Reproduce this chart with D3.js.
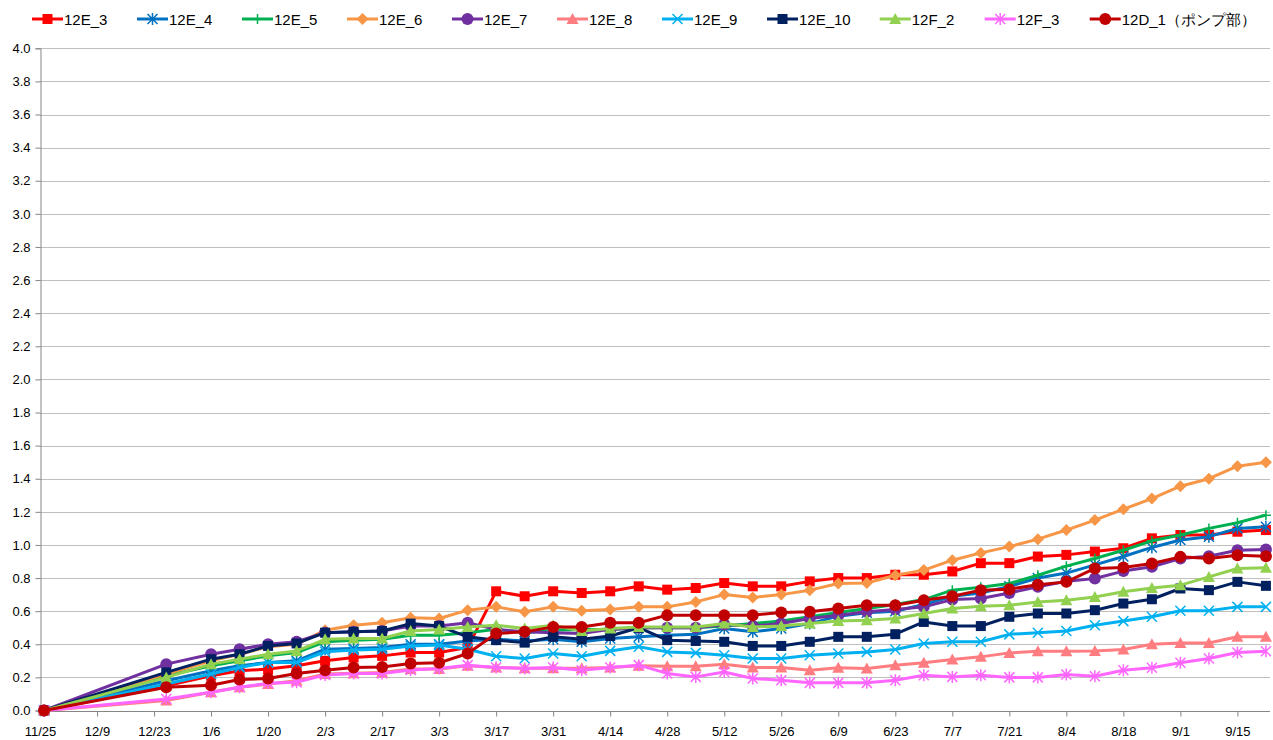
<!DOCTYPE html>
<html>
<head>
<meta charset="utf-8">
<title>12E series</title>
<style>
  body { margin: 0; background: #fff; font-family: 'Liberation Sans', Arial, sans-serif; }
  .grid line { stroke: #bfbfbf; stroke-width: 1; }
  .axis path, .axis line { stroke: #868686; }
  .axis text { font-size: 13px; fill: #000; font-family: 'Liberation Sans', Arial, sans-serif; }
  .legend text { font-size: 15px; fill: #000; }
  .series path.line { fill: none; stroke-width: 3; stroke-linejoin: round; }
</style>
</head>
<body>
<script src="https://d3js.org/d3.v7.min.js"></script>
<script>
// measurement dates (first two irregular, then weekly)
var dates = ["2012-11-26","2012-12-26","2013-01-06","2013-01-13","2013-01-20","2013-01-27","2013-02-03","2013-02-10",
  "2013-02-17","2013-02-24","2013-03-03","2013-03-10","2013-03-17","2013-03-24","2013-03-31","2013-04-07",
  "2013-04-14","2013-04-21","2013-04-28","2013-05-05","2013-05-12","2013-05-19","2013-05-26","2013-06-02",
  "2013-06-09","2013-06-16","2013-06-23","2013-06-30","2013-07-07","2013-07-14","2013-07-21","2013-07-28",
  "2013-08-04","2013-08-11","2013-08-18","2013-08-25","2013-09-01","2013-09-08","2013-09-15","2013-09-22"];

// axis tick dates (every 2 weeks)
var tickDates = ["2012-11-25","2012-12-09","2012-12-23","2013-01-06","2013-01-20","2013-02-03","2013-02-17",
  "2013-03-03","2013-03-17","2013-03-31","2013-04-14","2013-04-28","2013-05-12","2013-05-26","2013-06-09",
  "2013-06-23","2013-07-07","2013-07-21","2013-08-04","2013-08-18","2013-09-01","2013-09-15"];

var yTicks = [0,0.2,0.4,0.6,0.8,1.0,1.2,1.4,1.6,1.8,2.0,2.2,2.4,2.6,2.8,3.0,3.2,3.4,3.6,3.8,4.0];

var names = ["12E_3","12E_4","12E_5","12E_6","12E_7","12E_8","12E_9","12E_10","12F_2","12F_3","12D_1（ポンプ部）"];

var s12E_3 = [0,0.15,0.21,0.24,0.25,0.27,0.30,0.32,0.33,0.35,0.35,0.38,0.72,0.69,0.72,0.71,0.72,0.75,0.73,0.74,
  0.77,0.75,0.75,0.78,0.80,0.80,0.82,0.82,0.84,0.89,0.89,0.93,0.94,0.96,0.98,1.04,1.06,1.06,1.08,1.09];
var s12E_4 = [0,0.18,0.24,0.27,0.29,0.30,0.37,0.375,0.38,0.40,0.40,0.42,0.43,0.42,0.43,0.415,0.435,0.445,0.455,0.46,
  0.495,0.475,0.495,0.525,0.57,0.59,0.60,0.64,0.69,0.71,0.75,0.80,0.83,0.88,0.93,0.985,1.03,1.05,1.10,1.11];
var s12E_5 = [0,0.21,0.27,0.30,0.33,0.35,0.415,0.425,0.43,0.455,0.455,0.47,0.49,0.47,0.485,0.49,0.49,0.50,0.50,0.50,
  0.51,0.525,0.54,0.566,0.592,0.616,0.64,0.67,0.727,0.745,0.767,0.817,0.872,0.918,0.968,1.025,1.06,1.10,1.134,1.18];
var s12E_6 = [0,0.22,0.30,0.34,0.385,0.40,0.485,0.515,0.53,0.56,0.556,0.606,0.626,0.596,0.626,0.602,0.61,0.626,0.626,0.656,
  0.70,0.683,0.70,0.727,0.767,0.77,0.817,0.848,0.908,0.952,0.99,1.035,1.09,1.15,1.216,1.28,1.355,1.40,1.476,1.50];
var s12E_7 = [0,0.28,0.34,0.37,0.40,0.415,0.47,0.475,0.48,0.51,0.51,0.53,0.49,0.475,0.47,0.465,0.49,0.50,0.50,0.50,
  0.52,0.51,0.525,0.556,0.576,0.596,0.61,0.626,0.67,0.677,0.71,0.747,0.78,0.797,0.842,0.868,0.918,0.932,0.968,0.973];
var s12E_8 = [0,0.06,0.11,0.14,0.16,0.18,0.22,0.225,0.23,0.25,0.25,0.27,0.26,0.255,0.255,0.255,0.26,0.27,0.268,0.268,
  0.28,0.26,0.26,0.243,0.258,0.254,0.274,0.288,0.308,0.324,0.348,0.358,0.358,0.36,0.368,0.40,0.408,0.408,0.445,0.445];
var s12E_9 = [0,0.16,0.22,0.26,0.29,0.29,0.355,0.365,0.37,0.39,0.395,0.37,0.328,0.314,0.344,0.328,0.36,0.385,0.354,0.348,
  0.334,0.314,0.314,0.334,0.344,0.354,0.368,0.405,0.415,0.415,0.46,0.47,0.48,0.515,0.54,0.566,0.602,0.602,0.626,0.626];
var s12E_10 = [0,0.23,0.31,0.34,0.39,0.405,0.47,0.475,0.48,0.525,0.51,0.445,0.425,0.41,0.445,0.43,0.45,0.50,0.425,0.42,
  0.415,0.39,0.39,0.415,0.445,0.445,0.461,0.535,0.51,0.51,0.566,0.586,0.586,0.606,0.646,0.672,0.737,0.727,0.777,0.753];
var s12F_2 = [0,0.20,0.28,0.31,0.34,0.36,0.43,0.435,0.435,0.48,0.49,0.505,0.515,0.495,0.515,0.48,0.495,0.505,0.505,0.505,
  0.525,0.505,0.51,0.525,0.54,0.545,0.556,0.586,0.616,0.63,0.636,0.656,0.666,0.686,0.717,0.74,0.757,0.807,0.858,0.862];
var s12F_3 = [0,0.07,0.11,0.14,0.165,0.17,0.215,0.224,0.224,0.245,0.254,0.274,0.26,0.254,0.26,0.243,0.26,0.274,0.224,0.203,
  0.233,0.193,0.183,0.167,0.167,0.167,0.183,0.213,0.203,0.213,0.20,0.20,0.217,0.207,0.243,0.258,0.288,0.314,0.35,0.358];
var s12D_1 = [0,0.14,0.153,0.187,0.193,0.224,0.243,0.26,0.263,0.284,0.288,0.344,0.465,0.475,0.505,0.505,0.53,0.53,0.576,0.576,
  0.576,0.576,0.592,0.596,0.616,0.636,0.636,0.666,0.69,0.727,0.733,0.76,0.777,0.858,0.864,0.888,0.928,0.918,0.938,0.932];

var colors = ["#ff0000","#0070c0","#00b050","#f79646","#7030a0","#ff7c80","#00b0f0","#002060","#92d050","#ff66ff","#c00000"];
var markers = ["square","asterisk","plus","diamond","circle","triangle","x","square","triangle","asterisk","circle"];

var values = [s12E_3,s12E_4,s12E_5,s12E_6,s12E_7,s12E_8,s12E_9,s12E_10,s12F_2,s12F_3,s12D_1];

var width = 1273, height = 740;
var parse = d3.utcParse("%Y-%m-%d");

var svg = d3.select("body").append("svg")
  .attr("width", width)
  .attr("height", height);

var x = d3.scaleUtc()
  .domain([parse("2012-11-25"), parse("2013-09-23")])
  .range([40, 1270]);

var y = d3.scaleLinear()
  .domain([0, 4])
  .range([710.5, 48.3]);

// gridlines
svg.append("g").attr("class", "grid")
  .selectAll("line")
  .data(yTicks.slice(1))
  .enter().append("line")
  .attr("x1", 40).attr("x2", 1270)
  .attr("y1", function(d) { return Math.round(y(d)) + 0.5; })
  .attr("y2", function(d) { return Math.round(y(d)) + 0.5; });

// y axis
svg.append("g").attr("class", "axis")
  .attr("transform", "translate(40.5,0)")
  .call(d3.axisLeft(y).tickValues(yTicks).tickFormat(d3.format(".1f")).tickSize(5).tickPadding(5));

// x axis
var xAxis = svg.append("g").attr("class", "axis")
  .attr("transform", "translate(0," + (Math.round(y(0)) + 0.5) + ")")
  .call(d3.axisBottom(x).tickValues(tickDates.map(parse)).tickFormat(d3.utcFormat("%-m/%-d")).tickSize(5).tickPadding(10));
xAxis.select(".domain").attr("d", "M40,0H1270");

// marker drawing
function drawMarker(g, type, color, size) {
  var r = size / 2;
  if (type == "square") {
    g.append("rect").attr("x", -r).attr("y", -r).attr("width", size).attr("height", size).attr("fill", color);
  } else if (type == "circle") {
    g.append("circle").attr("r", r + 1).attr("fill", color);
  } else if (type == "diamond") {
    g.append("path").attr("d", "M0," + (-r - 1) + "L" + (r + 1) + ",0L0," + (r + 1) + "L" + (-r - 1) + ",0Z").attr("fill", color);
  } else if (type == "triangle") {
    g.append("path").attr("d", "M0," + (-r - 1) + "L" + (r + 1) + "," + r + "L" + (-r - 1) + "," + r + "Z").attr("fill", color);
  } else if (type == "plus") {
    g.append("path").attr("d", "M" + (-r) + ",0H" + r + "M0," + (-r) + "V" + r).attr("stroke", color).attr("stroke-width", 1.5);
  } else if (type == "x") {
    g.append("path").attr("d", "M" + (-r) + "," + (-r) + "L" + r + "," + r + "M" + (-r) + "," + r + "L" + r + "," + (-r))
      .attr("stroke", color).attr("stroke-width", 1.5);
  } else if (type == "asterisk") {
    g.append("path").attr("d", "M" + (-r) + "," + (-r) + "L" + r + "," + r + "M" + (-r) + "," + r + "L" + r + "," + (-r) + "M0," + (-r - 1) + "V" + (r + 1))
      .attr("stroke", color).attr("stroke-width", 1.5);
  }
}

var line = d3.line()
  .x(function(d) { return x(d.date); })
  .y(function(d) { return y(d.value); });

values.forEach(function(vals, k) {
  var pts = vals.map(function(v, i) { return { date: parse(dates[i]), value: v }; });
  var g = svg.append("g").attr("class", "series");
  g.append("path").attr("class", "line")
    .attr("d", line(pts))
    .attr("stroke", colors[k]);
  g.selectAll("g.mk")
    .data(pts)
    .enter().append("g")
    .attr("class", "mk")
    .attr("transform", function(d) { return "translate(" + x(d.date) + "," + y(d.value) + ")"; })
    .each(function() { drawMarker(d3.select(this), markers[k], colors[k], 10); });
});

// legend: entries ~105px apart, wider ones pushed along
var legend = svg.append("g").attr("class", "legend");
var lx = 32;
names.forEach(function(name, k) {
  var item = legend.append("g").attr("transform", "translate(" + lx + ",19)");
  item.append("line").attr("x1", 0).attr("x2", 31).attr("y1", 0).attr("y2", 0)
    .attr("stroke", colors[k]).attr("stroke-width", 3);
  var mk = item.append("g").attr("transform", "translate(15.5,0)");
  drawMarker(mk, markers[k], colors[k], 10);
  var t = item.append("text").attr("x", 32).attr("y", 5.5).text(name);
  lx += Math.max(105, 31 + t.node().getComputedTextLength() + 30);
});
</script>
</body>
</html>
